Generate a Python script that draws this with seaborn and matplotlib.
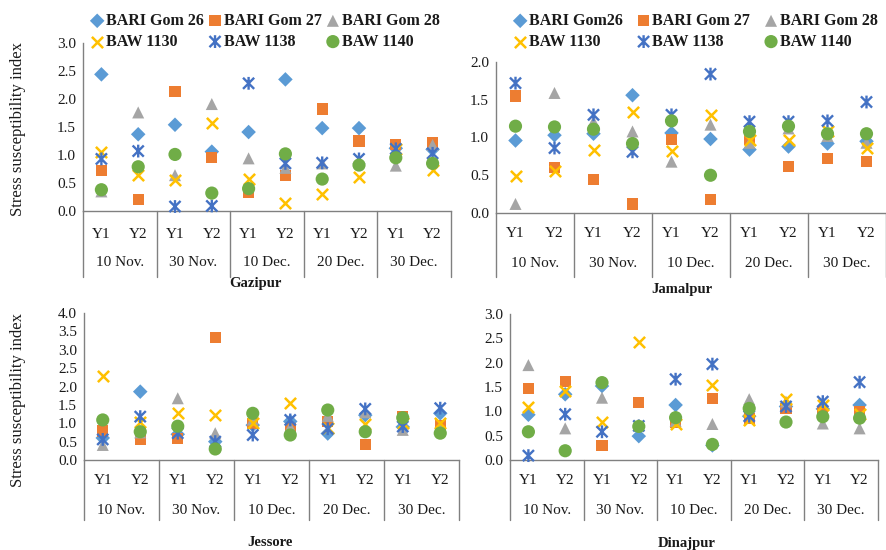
import numpy as np
import pandas as pd
import matplotlib
matplotlib.use('Agg')
import matplotlib.pyplot as plt
import matplotlib.transforms as mtransforms
from matplotlib.path import Path
from matplotlib.ticker import FormatStrFormatter
import seaborn as sns

# ---- values ----
dates = ['10 Nov.', '30 Nov.', '10 Dec.', '20 Dec.', '30 Dec.']
years = ['Y1', 'Y2']
varieties = ['BARI Gom 26', 'BARI Gom 27', 'BARI Gom 28', 'BAW 1130', 'BAW 1138', 'BAW 1140']

# order: 10 Nov Y1, Y2, 30 Nov Y1, Y2, 10 Dec Y1, Y2, 20 Dec Y1, Y2, 30 Dec Y1, Y2
gaz_26 = [2.44, 1.37, 1.54, 1.06, 1.41, 2.35, 1.48, 1.48, 1.12, 1.10]
gaz_27 = [0.73, 0.21, 2.13, 0.95, 0.33, 0.64, 1.82, 1.25, 1.19, 1.23]
gaz_28 = [0.35, 1.76, 0.64, 1.91, 0.94, 0.77, 0.85, 0.88, 0.81, 1.18]
gaz_1130 = [1.06, 0.64, 0.55, 1.58, 0.57, 0.14, 0.30, 0.61, 1.10, 0.74]
gaz_1138 = [0.93, 1.07, 0.08, 0.09, 2.28, 0.85, 0.86, 0.93, 1.11, 1.03]
gaz_1140 = [0.38, 0.79, 1.01, 0.32, 0.40, 1.02, 0.57, 0.82, 0.95, 0.85]

jam_26 = [0.96, 1.03, 1.05, 1.56, 1.06, 0.98, 0.84, 0.88, 0.92, 0.95]
jam_27 = [1.55, 0.60, 0.44, 0.12, 0.97, 0.18, 0.97, 0.62, 0.72, 0.68]
jam_28 = [0.12, 1.59, 1.21, 1.08, 0.68, 1.17, 0.93, 1.12, 1.02, 0.93]
jam_1130 = [0.49, 0.56, 0.83, 1.34, 0.82, 1.30, 0.97, 0.97, 1.08, 0.86]
jam_1138 = [1.72, 0.86, 1.30, 0.81, 1.30, 1.84, 1.21, 1.21, 1.22, 1.47]
jam_1140 = [1.15, 1.14, 1.11, 0.92, 1.22, 0.50, 1.08, 1.15, 1.05, 1.05]

jes_26 = [0.60, 1.86, 0.70, 0.50, 0.95, 1.05, 0.72, 1.22, 0.90, 1.27]
jes_27 = [0.79, 0.56, 0.59, 3.34, 1.00, 0.85, 1.04, 0.43, 1.18, 0.93]
jes_28 = [0.41, 0.75, 1.68, 0.73, 1.10, 0.90, 1.20, 1.30, 0.82, 0.90]
jes_1130 = [2.29, 1.04, 1.27, 1.22, 1.00, 1.54, 0.86, 0.98, 1.00, 1.00]
jes_1138 = [0.56, 1.18, 0.73, 0.50, 0.68, 1.09, 0.85, 1.39, 0.91, 1.41]
jes_1140 = [1.09, 0.77, 0.92, 0.30, 1.27, 0.68, 1.36, 0.77, 1.15, 0.73]

din_26 = [0.93, 1.35, 1.52, 0.49, 1.13, 0.30, 0.90, 1.10, 1.05, 1.13]
din_27 = [1.47, 1.61, 0.29, 1.18, 0.77, 1.27, 0.86, 1.05, 1.00, 1.00]
din_28 = [1.95, 0.65, 1.28, 0.72, 0.80, 0.74, 1.25, 1.20, 0.75, 0.65]
din_1130 = [1.08, 1.42, 0.78, 2.43, 0.75, 1.54, 0.82, 1.25, 1.12, 0.95]
din_1138 = [0.09, 0.94, 0.58, 0.70, 1.66, 1.97, 0.90, 1.10, 1.20, 1.60]
din_1140 = [0.58, 0.19, 1.59, 0.69, 0.87, 0.32, 1.06, 0.78, 0.89, 0.86]

# excel "star" marker: an X with a vertical bar through it
star = Path([(-1, -1), (1, 1), (-1, 1), (1, -1), (0, -1.15), (0, 1.15)],
            [Path.MOVETO, Path.LINETO, Path.MOVETO, Path.LINETO, Path.MOVETO, Path.LINETO])

# excel-ish series styles
colors = ['#5B9BD5', '#ED7D31', '#A5A5A5', '#FFC000', '#4472C4', '#70AD47']
markers = ['D', 's', '^', 'x', star, 'o']
sizes = [55, 65, 75, 65, 85, 90]

TXT = '#1a1a1a'
AXC = '#808080'


def make_frame(series):
    cats = [d + ' ' + y for d in dates for y in years]
    rows = []
    for name, vals in zip(varieties, series):
        for c, v in zip(cats, vals):
            rows.append({'cat': c, 'variety': name, 'ssi': v})
    return pd.DataFrame(rows), cats


def draw_panel(ax, series, ymax, y_row, d_row, bottom):
    df, cats = make_frame(series)
    for i, name in enumerate(varieties):
        sub = df[df['variety'] == name]
        kw = dict(marker=markers[i], s=sizes[i], color=colors[i], label=name,
                  legend=False, zorder=3 + i, clip_on=False)
        if name == 'BAW 1130':
            kw['linewidth'] = 1.8
        elif name == 'BAW 1138':
            kw['linewidth'] = 1.7
            kw['edgecolor'] = colors[i]
            kw['facecolor'] = 'none'
        else:
            kw['edgecolor'] = 'none'
        sns.scatterplot(data=sub, x='cat', y='ssi', ax=ax, **kw)

    ax.set_xlim(-0.5, len(cats) - 0.5)
    ax.set_ylim(0, ymax)
    ax.set_yticks(np.arange(0, ymax + 0.01, 0.5))
    ax.yaxis.set_major_formatter(FormatStrFormatter('%.1f'))
    ax.tick_params(axis='y', length=0, labelsize=11, pad=5, colors=TXT)
    ax.set_xticks([])
    ax.set_xlabel('')
    ax.set_ylabel('')
    sns.despine(ax=ax)
    for sp in ('left', 'bottom'):
        ax.spines[sp].set_color(AXC)
        ax.spines[sp].set_linewidth(1.0)

    # two-level category axis like excel
    tr = mtransforms.blended_transform_factory(ax.transData, ax.transAxes)
    for i, c in enumerate(cats):
        ax.text(i, y_row, c.split(' ')[-1], transform=tr, ha='center', va='center',
                fontsize=11, color=TXT)
    for k, d in enumerate(dates):
        ax.text(2 * k + 0.5, d_row, d, transform=tr, ha='center', va='center',
                fontsize=11, color=TXT)
    for k in range(len(dates) + 1):
        ax.plot([2 * k - 0.5, 2 * k - 0.5], [0, bottom], transform=tr,
                color=AXC, lw=1.0, clip_on=False)


def add_legend(fig, ax, labels, anchor, colsp):
    handles, _ = ax.get_legend_handles_labels()
    # matplotlib fills legends column by column, excel goes row by row
    order = [0, 3, 1, 4, 2, 5]
    fig.legend([handles[i] for i in order], [labels[i] for i in order], ncol=3,
               loc='upper left', bbox_to_anchor=anchor,
               frameon=False, handlelength=0.9, handletextpad=0.1,
               columnspacing=colsp, labelspacing=0.3, borderpad=0, borderaxespad=0,
               prop={'weight': 'bold', 'size': 11.5}, labelcolor=TXT)


sns.set_style('white')
plt.rcParams['font.family'] = ['Liberation Serif', 'DejaVu Serif']

W, H = 887, 550
fig = plt.figure(figsize=(W / 100, H / 100), dpi=100)

ax_gaz = fig.add_axes([83 / W, 1 - 211 / H, 368 / W, 168 / H])
ax_jam = fig.add_axes([496 / W, 1 - 213 / H, 390 / W, 151 / H])
ax_jes = fig.add_axes([84 / W, 1 - 460 / H, 375 / W, 147 / H])
ax_din = fig.add_axes([510 / W, 1 - 460 / H, 368 / W, 146 / H])

draw_panel(ax_gaz, [gaz_26, gaz_27, gaz_28, gaz_1130, gaz_1138, gaz_1140], 3.0,
           -24 / 168, -52 / 168, -66 / 168)
draw_panel(ax_jam, [jam_26, jam_27, jam_28, jam_1130, jam_1138, jam_1140], 2.0,
           -21 / 151, -51 / 151, -64 / 151)
draw_panel(ax_jes, [jes_26, jes_27, jes_28, jes_1130, jes_1138, jes_1140], 4.0,
           -20 / 147, -50 / 147, -60 / 147)
draw_panel(ax_din, [din_26, din_27, din_28, din_1130, din_1138, din_1140], 3.0,
           -20 / 146, -50 / 146, -60 / 146)

add_legend(fig, ax_gaz, varieties, (90 / W, 1 - 13 / H), 0.25)
jam_labels = ['BARI Gom26'] + varieties[1:]
add_legend(fig, ax_jam, jam_labels, (513 / W, 1 - 13 / H), 0.85)

# site names under each panel
for name, x, y in [('Gazipur', 255, 283), ('Jamalpur', 682, 290),
                   ('Jessore', 270, 543), ('Dinajpur', 687, 543)]:
    fig.text(x / W, 1 - y / H, name, ha='center', va='center', fontsize=10.5,
             fontweight='bold', color=TXT)

for y in (129, 400):
    fig.text(18 / W, 1 - y / H, 'Stress susceptibility index', rotation=90,
             ha='center', va='center', fontsize=12, color=TXT)

fig.savefig('out.png', dpi=100)
